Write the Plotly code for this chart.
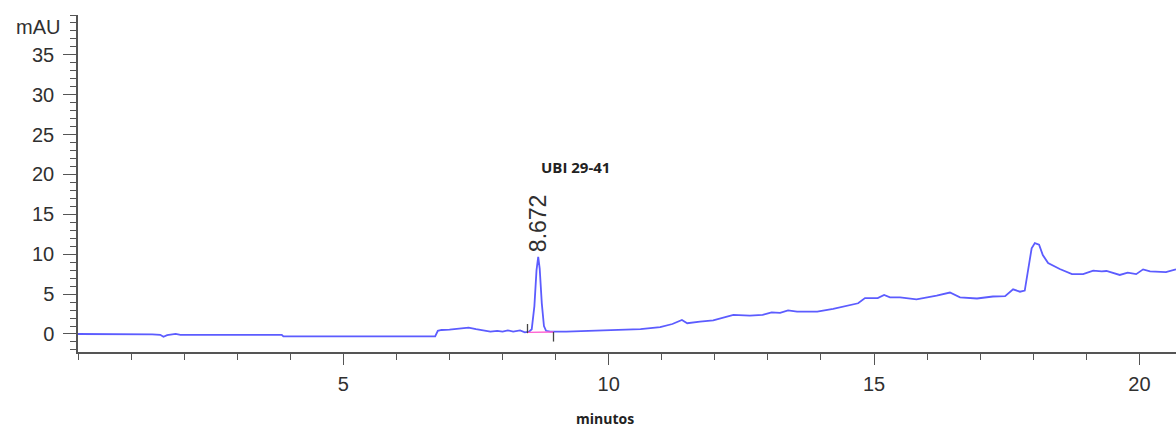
import plotly.graph_objects as go

# Chromatogram signal (time in minutes, absorbance in mAU)
time_min = [0.0, 1.33, 1.40, 1.55, 1.61, 1.68, 1.75, 1.84, 1.93, 3.84, 3.87, 6.73, 6.78, 6.85,
            7.0, 7.15, 7.36, 7.5, 7.65, 7.77, 7.9, 8.0, 8.1, 8.2, 8.33, 8.42, 8.5, 8.55, 8.6,
            8.64, 8.672, 8.7, 8.74, 8.78, 8.82, 8.9, 9.2, 9.6, 9.84, 10.2, 10.6, 10.97, 11.2,
            11.38, 11.48, 11.72, 11.97, 12.35, 12.66, 12.9, 13.07, 13.23, 13.38, 13.55, 13.93,
            14.23, 14.6, 14.7, 14.83, 14.98, 15.07, 15.19, 15.3, 15.49, 15.8, 16.18, 16.43,
            16.62, 16.94, 17.24, 17.47, 17.62, 17.75, 17.84, 17.9, 17.97, 18.03, 18.11, 18.18,
            18.28, 18.5, 18.73, 18.94, 19.13, 19.29, 19.38, 19.63, 19.78, 19.94, 20.07, 20.2,
            20.5, 20.69]
absorbance = [0.0, 0.0, -0.05, -0.1, -0.35, -0.15, -0.05, 0.0, -0.1, -0.1, -0.3, -0.3, 0.4, 0.5,
              0.55, 0.65, 0.8, 0.6, 0.45, 0.3, 0.4, 0.3, 0.45, 0.3, 0.45, 0.2, 0.3, 0.6, 3.5,
              8.0, 9.66, 8.2, 3.8, 1.0, 0.4, 0.3, 0.3, 0.4, 0.5, 0.5, 0.6, 0.85, 1.25,
              1.75, 1.35, 1.55, 1.7, 2.4, 2.3, 2.4, 2.7, 2.65, 2.95, 2.8, 2.8,
              3.15, 3.65, 3.85, 4.5, 4.55, 4.5, 4.9, 4.6, 4.6, 4.35, 4.8, 5.2,
              4.6, 4.45, 4.7, 4.75, 5.6, 5.3, 5.45, 8.0, 10.75, 11.4, 11.2, 9.9,
              8.9, 8.15, 7.5, 7.5, 7.95, 7.85, 7.9, 7.4, 7.7, 7.5, 8.1, 7.85,
              7.75, 8.1]

# Integrated peak
peak_name = "UBI 29-41"
peak_rt = 8.672
peak_height = 9.66
baseline_t = [8.47, 8.96]
baseline_v = [0.2, 0.25]

y_tick_vals = [0, 5, 10, 15, 20, 25, 30, 35]
x_tick_vals = [5, 10, 15, 20]

axis_color = "#555555"
text_color = "#303030"
tick_font = dict(family="Arial, Liberation Sans", size=20, color=text_color)

fig = go.Figure()

fig.add_trace(go.Scatter(
    x=time_min, y=absorbance, mode="lines",
    line=dict(color="#5c5cff", width=1.8), hoverinfo="skip", showlegend=False))

# Peak integration baseline
fig.add_trace(go.Scatter(
    x=baseline_t, y=baseline_v, mode="lines",
    line=dict(color="#ff5fd0", width=1.3), hoverinfo="skip", showlegend=False))

# Peak start / end markers
fig.add_shape(type="line", xref="x", yref="y",
              x0=baseline_t[0], x1=baseline_t[0], y0=baseline_v[0] - 0.1, y1=baseline_v[0] + 1.05,
              line=dict(color="#444444", width=1.3))
fig.add_shape(type="line", xref="x", yref="y",
              x0=baseline_t[1], x1=baseline_t[1], y0=baseline_v[1] - 1.2, y1=baseline_v[1],
              line=dict(color="#444444", width=1.3))

fig.add_annotation(x=peak_rt, y=peak_height, xref="x", yref="y",
                   text=f"{peak_rt:.3f}", textangle=-90, showarrow=False,
                   xanchor="center", yanchor="bottom", yshift=3,
                   font=dict(family="Arial, Liberation Sans", size=23, color=text_color))
fig.add_annotation(x=9.37, y=20.95, xref="x", yref="y",
                   text=f"<b>{peak_name}</b>", showarrow=False,
                   xanchor="center", yanchor="middle",
                   font=dict(family="Open Sans", size=15, color="#222222"))

fig.add_annotation(x=0, y=38.5, xref="paper", yref="y", text="mAU", showarrow=False,
                   xanchor="right", yanchor="middle", xshift=-16,
                   font=dict(family="Arial, Liberation Sans", size=20, color=text_color))
fig.add_annotation(x=9.93, y=-0.198, xref="x", yref="paper", text="<b>minutos</b>",
                   showarrow=False, xanchor="center", yanchor="middle",
                   font=dict(family="Open Sans", size=14, color="#222222"))

fig.update_xaxes(
    range=[0, 20.69], tickvals=x_tick_vals, ticks="outside", ticklen=11, tickwidth=1.3,
    tickcolor=axis_color, showline=True, linecolor=axis_color, linewidth=1.5,
    showgrid=False, zeroline=False, tickfont=tick_font, ticklabelstandoff=2,
    minor=dict(tickmode="linear", tick0=0, dtick=1, ticks="outside", ticklen=6,
               tickcolor=axis_color, tickwidth=1.2, showgrid=False))
fig.update_yaxes(
    range=[-2.26, 40.0], tickvals=y_tick_vals, ticks="outside", ticklen=13, tickwidth=1.3,
    tickcolor=axis_color, showline=True, linecolor=axis_color, linewidth=1.5,
    showgrid=False, zeroline=False, tickfont=tick_font, ticklabelstandoff=5,
    minor=dict(tickmode="linear", tick0=0, dtick=1, ticks="outside", ticklen=6,
               tickcolor=axis_color, tickwidth=1.2, showgrid=False))

fig.update_layout(
    width=1176, height=431,
    margin=dict(l=78, r=0, t=15, b=79),
    plot_bgcolor="white", paper_bgcolor="white",
    showlegend=False)

fig.write_html("out.html")
